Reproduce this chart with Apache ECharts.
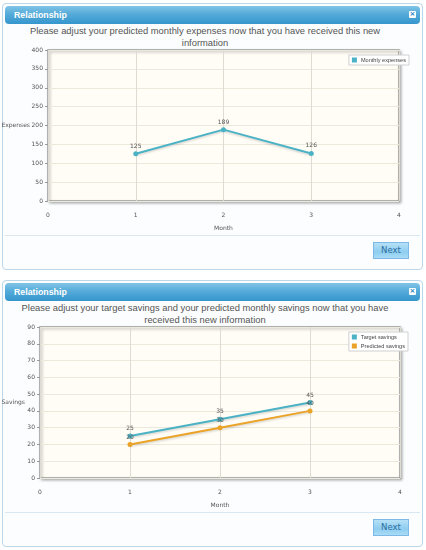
<!DOCTYPE html>
<html>
<head>
<meta charset="utf-8">
<title>Relationship</title>
<script src="https://cdn.jsdelivr.net/npm/echarts@6/dist/echarts.min.js"></script>
<style type="text/css">
	html, body {
		margin: 0;
		padding: 0;
		width: 426px;
		height: 550px;
		background: #ffffff;
		overflow: hidden;
	}
	.panel {
		position: absolute;
		left: 2px;
		width: 419px;
		height: 265px;
		border: 1px solid #bcd7ea;
		border-radius: 4px;
		background: #fbfdfe;
	}
	.panel .bar {
		position: absolute;
		left: 2px;
		top: 2px;
		width: 415px;
		height: 18px;
		border-radius: 4px;
		background: linear-gradient(to bottom, #80c4e6 0%, #55abd9 45%, #3596cd 100%);
	}
	.panel .bar span {
		position: absolute;
		left: 9px;
		top: 4px;
		font-family: "Liberation Sans", sans-serif;
		font-weight: bold;
		font-size: 8.8px;
		color: #ffffff;
	}
	.panel .bar i {
		position: absolute;
		right: 4px;
		top: 5px;
		width: 7px;
		height: 7px;
		background: #ffffff;
		border-radius: 1px;
		font-style: normal;
		font-size: 7px;
		line-height: 7px;
		text-align: center;
		color: #2b86c0;
		font-family: "DejaVu Sans", sans-serif;
		font-weight: bold;
	}
	.panel .ask {
		position: absolute;
		left: 2px;
		width: 400px;
		top: 21px;
		text-align: center;
		font-family: "Liberation Sans", sans-serif;
		font-size: 9.4px;
		line-height: 12px;
		color: #555555;
	}
	.panel .sep {
		position: absolute;
		left: 2px;
		width: 415px;
		top: 231px;
		border-top: 1px solid #d9e7f2;
	}
	.panel .next {
		position: absolute;
		left: 370px;
		top: 238px;
		width: 34px;
		height: 15px;
		border: 1px solid #7cb9e6;
		background: linear-gradient(to bottom, #b5e0f7 0%, #8fcdf0 60%, #a9dcf6 100%);
		font-family: "DejaVu Sans", sans-serif;
		font-size: 8.5px;
		line-height: 15px;
		text-align: center;
		color: #2a6f9f;
	}
	.chart {
		position: absolute;
		left: 0;
		width: 426px;
		height: 192px;
	}
</style>
</head>
<body>

<div class="panel" style="top:3px;">
	<div class="bar"><span>Relationship</span><i>×</i></div>
	<div class="ask">Please adjust your predicted monthly expenses now that you have received this new<br>information</div>
	<div class="sep"></div>
	<div class="next">Next</div>
</div>

<div class="panel" style="top:280px;">
	<div class="bar"><span>Relationship</span><i>×</i></div>
	<div class="ask">Please adjust your target savings and your predicted monthly savings now that you have<br>received this new information</div>
	<div class="sep"></div>
	<div class="next">Next</div>
</div>

<div class="chart" id="chart_expenses" style="top:44px;"></div>
<div class="chart" id="chart_savings" style="top:322px;"></div>

<script type="text/javascript">
// month positions on the x axis
var months = [1, 2, 3];
// monthly expenses
var monthlyExpenses = [125, 189, 126];
// savings
var targetSavings = [25, 35, 45];
var predictedSavings = [20, 30, 40];

var blue = '#4bb2c5';
var orange = '#eaa228';
var small = { fontFamily: 'DejaVu Sans', fontSize: 6, color: '#555' };

function pairs(ys) {
	return months.map(function (m, i) { return [m, ys[i]]; });
}

function lineSeries(name, ys, color) {
	return {
		name: name,
		type: 'line',
		data: pairs(ys),
		symbol: 'circle',
		symbolSize: 5,
		color: color,
		lineStyle: {
			width: 2,
			color: color,
			shadowColor: 'rgba(0,0,0,0.15)',
			shadowBlur: 2,
			shadowOffsetY: 1.5
		},
		label: {
			show: true,
			position: 'top',
			distance: 2,
			fontFamily: small.fontFamily,
			fontSize: 6,
			color: '#555'
		},
		animation: false
	};
}

function baseOption(grid, yMax, yStep, yName, yGap) {
	return {
		animation: false,
		textStyle: { fontFamily: 'DejaVu Sans' },
		grid: Object.assign({
			show: true,
			outerBoundsMode: 'none',
			containLabel: false,
			backgroundColor: '#fffdf6',
			borderColor: '#9a9a9a',
			borderWidth: 1.5,
			shadowColor: 'rgba(0,0,0,0.3)',
			shadowBlur: 3,
			shadowOffsetX: 1.5,
			shadowOffsetY: 1.5
		}, grid),
		xAxis: {
			type: 'value',
			min: 0,
			max: 4,
			interval: 1,
			name: 'Month',
			nameLocation: 'middle',
			nameGap: 24,
			nameMoveOverlap: false,
			nameTextStyle: small,
			axisLine: { show: false },
			axisTick: { show: false },
			axisLabel: Object.assign({ margin: 11 }, small),
			splitLine: { lineStyle: { color: '#dedbd0', width: 1 } }
		},
		yAxis: {
			type: 'value',
			min: 0,
			max: yMax,
			interval: yStep,
			name: yName,
			nameLocation: 'middle',
			nameRotate: 0,
			nameGap: yGap,
			nameMoveOverlap: false,
			nameTextStyle: small,
			axisLine: { show: false },
			axisTick: { show: true, length: 3, lineStyle: { color: '#999' } },
			axisLabel: Object.assign({ margin: 5 }, small),
			splitLine: { lineStyle: { color: '#ebe8dc', width: 1 } }
		}
	};
}

function legendOf(top, right) {
	return {
		top: top,
		right: right,
		orient: 'vertical',
		icon: 'rect',
		itemWidth: 5,
		itemHeight: 5,
		itemGap: 3,
		padding: [2, 3, 2, 3],
		backgroundColor: '#ffffff',
		borderColor: '#d0d0d0',
		borderWidth: 1,
		textStyle: { fontFamily: 'Liberation Sans', fontSize: 5.6, color: '#444', padding: [0, 0, 0, -1] }
	};
}

var chartA = echarts.init(document.getElementById('chart_expenses'));
var optA = baseOption({ left: 48, right: 27, top: 6, bottom: 35 }, 400, 50, 'Expenses', 18);
optA.legend = legendOf(11, 17);
optA.series = [lineSeries('Monthly expenses', monthlyExpenses, blue)];
chartA.setOption(optA);

var chartB = echarts.init(document.getElementById('chart_savings'));
var optB = baseOption({ left: 40, right: 26, top: 5, bottom: 36 }, 90, 10, 'Savings', 15);
optB.legend = legendOf(10, 18);
optB.series = [
	lineSeries('Target savings', targetSavings, blue),
	lineSeries('Predicted savings', predictedSavings, orange)
];
chartB.setOption(optB);
</script>
</body>
</html>
